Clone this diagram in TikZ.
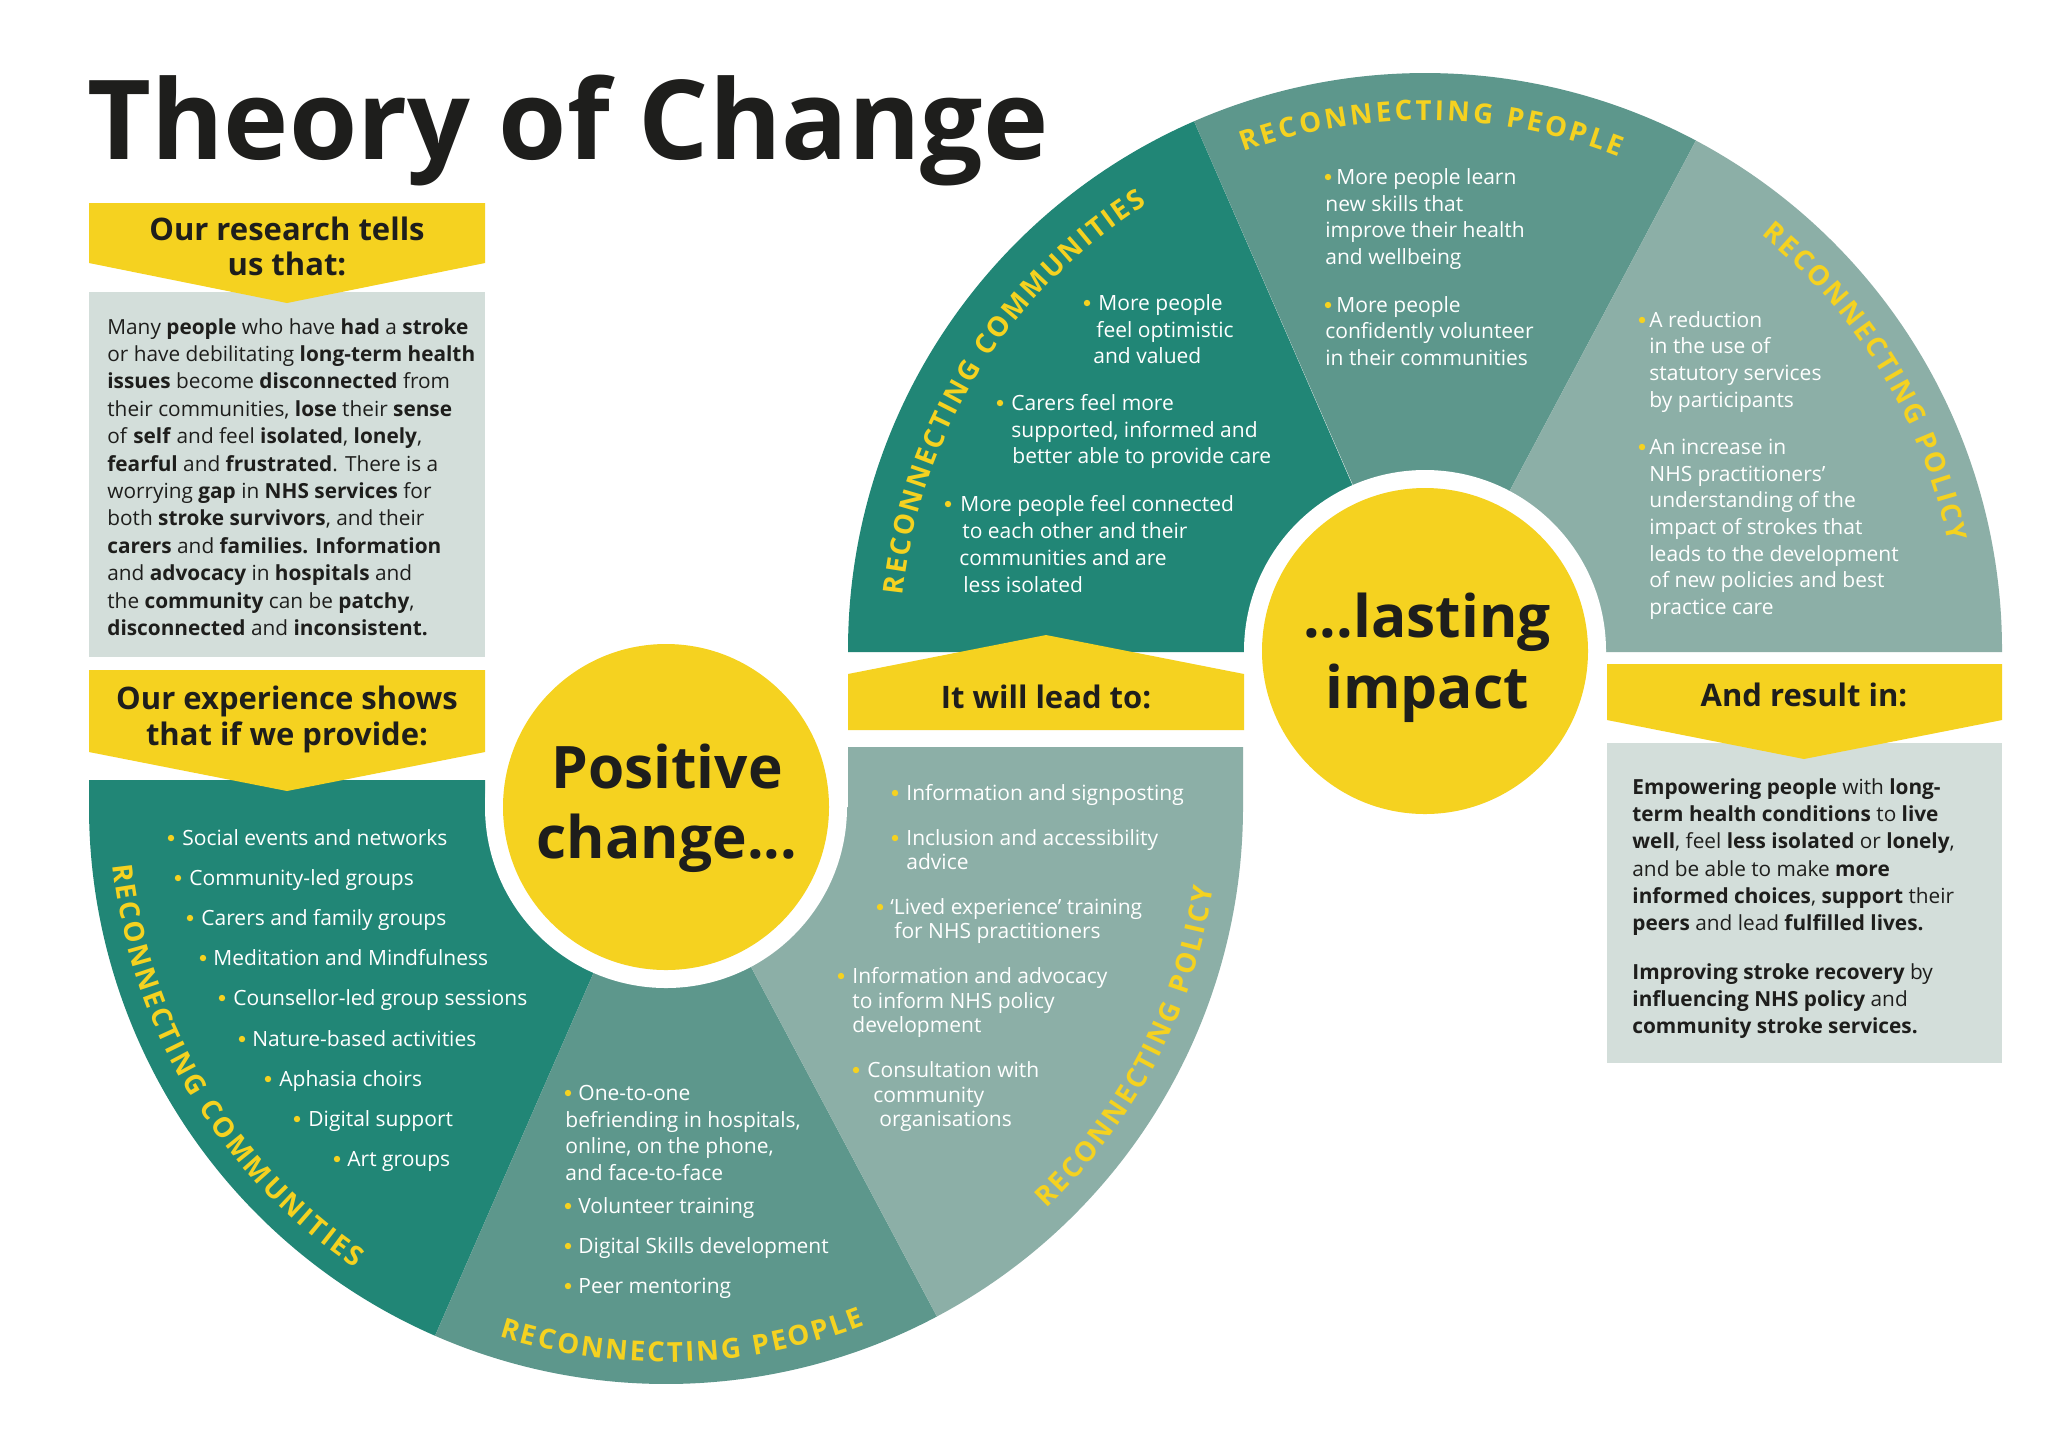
\documentclass[tikz,border=0pt]{standalone}
\usepackage{fontspec}
\setmainfont{Open Sans}
\usetikzlibrary{decorations.text}
\definecolor{dteal}{RGB}{33,134,118}
\definecolor{mteal}{RGB}{93,151,140}
\definecolor{lteal}{RGB}{140,175,167}
\definecolor{gbox}{RGB}{211,222,218}
\definecolor{ylw}{RGB}{245,210,32}
\definecolor{dtext}{RGB}{30,30,28}
\newcommand\lblfont{\fontsize{13.8}{14}\selectfont\bfseries}
\newcommand\wtl[4]{\node[bodyW] (#1) at (#2,#3) {#4};}
\newcommand\dtl[4]{\node[bodyD] (#1) at (#2,#3) {#4};}
\newcommand\ybul[2]{\fill[ylw] (#1,#2) circle (3.2);}
\begin{document}
\begin{tikzpicture}[x=0.5pt,y=-0.5pt,
  bodyW/.style={anchor=base west, inner sep=0, text=white, font=\fontsize{10.5}{13}\selectfont},
  bodyD/.style={anchor=base west, inner sep=0, text=dtext, font=\fontsize{10.4}{13}\selectfont},
  bantxt/.style={anchor=base, inner sep=0, text=dtext, font=\fontsize{15.5}{17}\selectfont\bfseries},
  bigtxt/.style={anchor=base, inner sep=0, text=dtext, font=\fontsize{29.3}{32}\selectfont\bfseries},
  ycirc/.style={circle, fill=ylw, minimum size=163pt, inner sep=0},
  lbl/.style={decorate, decoration={text along path, text align={fit to path}, text color=ylw, text={|\lblfont|#1}}}]
\fill[white] (0,0) rectangle (2048,1448);
\useasboundingbox (0,0) rectangle (2048,1448);

% ---- lower half circle ----
\fill[dteal] (666,807) -- (485,807) -- (485,780) -- (89,780) -- (89,807) arc[start angle=180, end angle=113.6, radius=577] -- cycle;
\fill[mteal] (666,807) -- ++(113.6:577) arc[start angle=113.6, end angle=62, radius=577] -- cycle;
\fill[lteal] (666,807) -- ++(62:577) arc[start angle=62, end angle=0, radius=577] -- (1243,747) -- (848,747) -- (848,807) -- cycle;

% ---- upper half circle ----
\fill[dteal] (1425,652) -- (848,652) -- (848,650) arc[start angle=180, end angle=246.4, radius=577] -- cycle;
\fill[mteal] (1425,650) -- ++(246.4:577) arc[start angle=246.4, end angle=298, radius=577] -- cycle;
\fill[lteal] (1425,650) -- ++(298:577) arc[start angle=298, end angle=360, radius=577] -- (2002,652) -- (1425,652) -- cycle;

% ---- rings and yellow circles ----
\fill[white] (666,807) circle (181);
\fill[white] (1425,651) circle (181);
\node[ycirc] (pc) at (666,807) {};
\node[ycirc] (lc) at (1425,651) {};
\node[bigtxt] (pc1) at (667,788) {Positive};
\node[bigtxt] (pc2) at (667,858) {change...};
\node[bigtxt] (lc1) at (1427,637) {...lasting};
\node[bigtxt] (lc2) at (1427,708) {impact};

% ---- boxes and banners ----
\fill[gbox] (89,292) rectangle (485,657);
\fill[gbox] (1607,743) rectangle (2002,1063);
\fill[ylw] (89,203) -- (485,203) -- (485,263) -- (287,303) -- (89,263) -- cycle;
\fill[ylw] (89,670) -- (485,670) -- (485,752) -- (287,791) -- (89,752) -- cycle;
\fill[ylw] (848,674) -- (1046,635) -- (1244,674) -- (1244,730) -- (848,730) -- cycle;
\fill[ylw] (1607,664) -- (2002,664) -- (2002,720) -- (1804,759) -- (1607,720) -- cycle;
\node[bantxt] (b1a) at (287,240) {Our research tells};
\node[bantxt] (b1b) at (287,275) {us that:};
\node[bantxt] (b2a) at (287,709) {Our experience shows};
\node[bantxt] (b2b) at (287,745) {that if we provide:};
\node[bantxt] (b3) at (1046,708) {It will lead to:};
\node[bantxt] (b4) at (1804,706) {And result in:};

% ---- title ----
\node[anchor=base west, inner sep=0, text=dtext, font=\fontsize{55.2}{60}\selectfont\bfseries] (title) at (87,159) {Theory of Change};

% ---- left box text ----
\dtl{g1}{107}{334}{Many \textbf{people} who have \textbf{had} a \textbf{stroke}}
\dtl{g2}{107}{361.4}{or have debilitating \textbf{long-term health}}
\dtl{g3}{107}{388.8}{\textbf{issues} become \textbf{disconnected} from}
\dtl{g4}{107}{416.2}{their communities, \textbf{lose} their \textbf{sense}}
\dtl{g5}{107}{443.6}{of \textbf{self} and feel \textbf{isolated}, \textbf{lonely},}
\dtl{g6}{107}{471}{\textbf{fearful} and \textbf{frustrated}. There is a}
\dtl{g7}{107}{498.4}{worrying \textbf{gap} in \textbf{NHS services} for}
\dtl{g8}{107}{525.8}{both \textbf{stroke survivors}, and their}
\dtl{g9}{107}{553.2}{\textbf{carers} and \textbf{families. Information}}
\dtl{g10}{107}{580.6}{and \textbf{advocacy} in \textbf{hospitals} and}
\dtl{g11}{107}{608}{the \textbf{community} can be \textbf{patchy},}
\dtl{g12}{107}{635.4}{\textbf{disconnected} and \textbf{inconsistent.}}

% ---- right box text ----
\dtl{e1}{1632}{794}{\textbf{Empowering people} with \textbf{long-}}
\dtl{e2}{1632}{821}{\textbf{term health conditions} to \textbf{live}}
\dtl{e3}{1632}{848}{\textbf{well}, feel \textbf{less isolated} or \textbf{lonely},}
\dtl{e4}{1632}{876}{and be able to make \textbf{more}}
\dtl{e5}{1632}{903}{\textbf{informed choices}, \textbf{support} their}
\dtl{e6}{1632}{930}{\textbf{peers} and lead \textbf{fulfilled lives.}}
\dtl{e7}{1632}{979}{\textbf{Improving stroke recovery} by}
\dtl{e8}{1632}{1006}{\textbf{influencing NHS policy} and}
\dtl{e9}{1632}{1033}{\textbf{community stroke services.}}

% ---- lower dark list ----
\ybul{171}{838} \wtl{c1}{182}{845}{Social events and networks}
\ybul{178}{878} \wtl{c2}{189}{885}{Community-led groups}
\ybul{190}{918} \wtl{c3}{201}{925}{Carers and family groups}
\ybul{203}{958} \wtl{c4}{213}{965}{Meditation and Mindfulness}
\ybul{222}{998} \wtl{c5}{233}{1005}{Counsellor-led group sessions}
\ybul{242}{1039} \wtl{c6}{252}{1046}{Nature-based activities}
\ybul{268}{1079} \wtl{c7}{279}{1086}{Aphasia choirs}
\ybul{297}{1119} \wtl{c8}{308}{1126}{Digital support}
\ybul{337}{1159} \wtl{c9}{347}{1166}{Art groups}

% ---- lower medium list ----
\ybul{568}{1093} \wtl{p1}{578}{1100}{One-to-one}
\wtl{p2}{565}{1127}{befriending in hospitals,}
\wtl{p3}{565}{1153}{online, on the phone,}
\wtl{p4}{565}{1180}{and face-to-face}
\ybul{568}{1206} \wtl{p5}{578}{1213}{Volunteer training}
\ybul{568}{1246} \wtl{p6}{578}{1253}{Digital Skills development}
\ybul{568}{1286} \wtl{p7}{578}{1293}{Peer mentoring}

% ---- lower light list ----
\ybul{895}{793} \wtl{q1}{906}{800}{Information and signposting}
\ybul{895}{838} \wtl{q2}{906}{845}{Inclusion and accessibility}
\wtl{q3}{906}{869}{advice}
\ybul{880}{907} \wtl{q4}{890}{914}{‘Lived experience’ training}
\wtl{q5}{894}{938}{for NHS practitioners}
\ybul{841}{976} \wtl{q6}{852}{983}{Information and advocacy}
\wtl{q7}{852}{1008}{to inform NHS policy}
\wtl{q8}{852}{1032}{development}
\ybul{856}{1070} \wtl{q9}{867}{1077}{Consultation with}
\wtl{q10}{873}{1102}{community}
\wtl{q11}{879}{1126}{organisations}

% ---- upper dark list ----
\ybul{1087}{303} \wtl{u1}{1098}{310}{More people}
\wtl{u2}{1096}{337}{feel optimistic}
\wtl{u3}{1093}{363}{and valued}
\ybul{1000}{403} \wtl{u4}{1011}{410}{Carers feel more}
\wtl{u5}{1011}{437}{supported, informed and}
\wtl{u6}{1012}{463}{better able to provide care}
\ybul{948}{504} \wtl{u7}{960}{511}{More people feel connected}
\wtl{u8}{962}{538}{to each other and their}
\wtl{u9}{959}{565}{communities and are}
\wtl{u10}{963}{592}{less isolated}

% ---- upper medium list ----
\ybul{1328}{177} \wtl{m1}{1336}{184}{More people learn}
\wtl{m2}{1325}{211}{new skills that}
\wtl{m3}{1325}{237}{improve their health}
\wtl{m4}{1325}{264}{and wellbeing}
\ybul{1328}{305} \wtl{m5}{1336}{312}{More people}
\wtl{m6}{1325}{338}{confidently volunteer}
\wtl{m7}{1325}{365}{in their communities}

% ---- upper light list ----
\ybul{1642}{320} \wtl{r1}{1649}{327}{A reduction}
\wtl{r2}{1649}{353}{in the use of}
\wtl{r3}{1649}{380}{statutory services}
\wtl{r4}{1649}{407}{by participants}
\ybul{1642}{447} \wtl{r5}{1649}{454}{An increase in}
\wtl{r6}{1649}{481}{NHS practitioners’}
\wtl{r7}{1649}{507}{understanding of the}
\wtl{r8}{1649}{534}{impact of strokes that}
\wtl{r9}{1649}{561}{leads to the development}
\wtl{r10}{1649}{587}{of new policies and best}
\wtl{r11}{1649}{614}{practice care}

% ---- curved labels ----
\path[shift={(666,807)}, lbl={RECONNECTING COMMUNITIES}] (174:556) arc[start angle=174, end angle=124, radius=556];
\path[shift={(666,807)}, lbl={RECONNECTING PEOPLE}] (107.5:555) arc[start angle=107.5, end angle=69, radius=555];
\path[shift={(666,807)}, lbl={RECONNECTING POLICY}] (46.6:553) arc[start angle=46.6, end angle=8.4, radius=553];
\path[shift={(1425,650)}, lbl={RECONNECTING COMMUNITIES}] (186:525) arc[start angle=186, end angle=238, radius=525];
\path[shift={(1425,650)}, lbl={RECONNECTING PEOPLE}] (250:530) arc[start angle=250, end angle=291.5, radius=530];
\path[shift={(1425,650)}, lbl={RECONNECTING POLICY}] (309:534) arc[start angle=309, end angle=348.4, radius=534];
\end{tikzpicture}
\end{document}
